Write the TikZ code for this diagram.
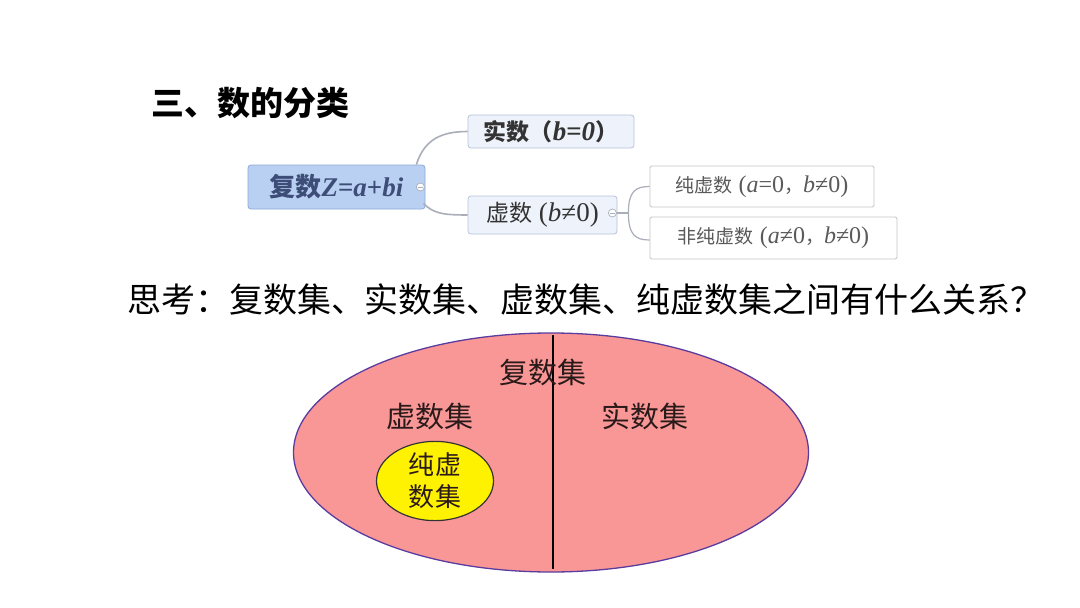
\documentclass[tikz,border=0pt]{standalone}
\usepackage{fontspec}
\setmainfont{Liberation Serif}
\newfontfamily\cjk{Noto Sans CJK SC}
\newfontfamily\tms{Liberation Serif}
\usetikzlibrary{shapes.geometric,calc}
\definecolor{rootfill}{HTML}{B9D0F2}
\definecolor{rootdraw}{HTML}{8EA9D8}
\definecolor{roottext}{HTML}{3E4C78}
\definecolor{subfill}{HTML}{EEF2FA}
\definecolor{subdraw}{HTML}{B6C2D8}
\definecolor{leafdraw}{HTML}{C4C4C4}
\definecolor{leaftext}{HTML}{5A5A5A}
\definecolor{conn}{HTML}{A9AEB9}
\definecolor{pinkfill}{HTML}{F99797}
\definecolor{purpledraw}{HTML}{5A3C9E}
\definecolor{settext}{HTML}{2B1A1A}
\newcommand{\lat}[2]{{\fontsize{#1}{#1}\selectfont #2}}
\tikzset{
  treebox/.style={rectangle, rounded corners=3pt, inner sep=0pt, line width=0.8pt},
  rootbox/.style={treebox, fill=rootfill, draw=rootdraw, text=roottext, font=\fontsize{26}{30}\selectfont\bfseries},
  subbox/.style={treebox, fill=subfill, draw=subdraw, text=black!80, font=\fontsize{23}{27}\selectfont},
  leafbox/.style={treebox, rounded corners=1.5pt, fill=white, draw=leafdraw, text=leaftext, font=\fontsize{19}{23}\selectfont},
  conn/.style={draw=conn, line width=1.6pt},
  marker/.style={circle, minimum size=8pt, inner sep=0pt, fill=white, draw=conn, line width=0.7pt},
  settxt/.style={text=settext, inner sep=0pt, font=\cjk\fontsize{29}{32}\selectfont},
}
\begin{document}
\begin{tikzpicture}[x=1pt,y=-1pt]
\useasboundingbox (0,0) rectangle (1080,608);
\fill[white] (0,0) rectangle (1080,608);

% title
\node[inner sep=0pt, font=\cjk\bfseries\fontsize{33}{36}\selectfont] (title) at (250,103) {三、数的分类};

% tree
\node[rootbox, minimum width=177pt, minimum height=44pt] (root) at (336.5,187) {{\cjk 复数}\lat{27}{\textit{Z}=\textit{a}+\textit{bi}}};
\node[subbox, minimum width=166pt, minimum height=33pt] (shi) at (551,131.5) {\textbf{{\cjk 实数（}\lat{27}{\textit{b}=\textit{0}}{\cjk ）}}};
\node[subbox, minimum width=149pt, minimum height=38pt] (xu) at (542.5,215) {{\cjk 虚数}\lat{27}{ (\textit{b}≠0)}};
\node[leafbox, minimum width=224pt, minimum height=41pt] (chun) at (762,186.5) {{\cjk 纯虚数}\lat{24}{ (\textit{a}=0}{\cjk ，}\lat{24}{\textit{b}≠0)}};
\node[leafbox, minimum width=247pt, minimum height=42pt] (fei) at (773.5,238) {{\cjk 非纯虚数}\lat{24}{ (\textit{a}≠0}{\cjk ，}\lat{24}{\textit{b}≠0)}};

\coordinate (r1) at ($(root.north east)+(-9,0)$);
\coordinate (r2) at ($(root.south east)+(-2,-6)$);
\draw[conn] (r1) .. controls ($(r1)+(8,-26)$) and ($(shi.west)+(-25,0)$) .. (shi.west);
\draw[conn] (r2) .. controls ($(r2)+(10,10)$) and ($(xu.west)+(-25,0)$) .. (xu.west);

\coordinate (fork) at ($(xu.east)+(11,-2)$);
\draw[conn, line width=1.2pt] ($(xu.east)+(-5,-2)$) -- (fork);
\draw[conn, line width=1.2pt] (fork) .. controls ($(fork)+(0,-22)$) and ($(chun.west)+(-14,0)$) .. (chun.west);
\draw[conn, line width=1.2pt] (fork) .. controls ($(fork)+(0,22)$) and ($(fei.west|-fork)+(-14,27)$) .. ($(fei.west)+(0,2)$);

\node[marker] (m1) at ($(root.east)+(-5,0)$) {};
\draw[conn, line width=0.8pt] ($(m1.center)+(-2.2,0)$) -- ($(m1.center)+(2.2,0)$);
\node[marker] (m2) at ($(xu.east)+(-5,-2)$) {};
\draw[conn, line width=0.8pt] ($(m2.center)+(-2.2,0)$) -- ($(m2.center)+(2.2,0)$);

% question
\node[inner sep=0pt, font=\cjk\fontsize{34}{37}\selectfont] (q) at (586,300) {思考：复数集、实数集、虚数集、纯虚数集之间有什么关系？};

% sets diagram
\node[ellipse, minimum width=515pt, minimum height=239pt, inner sep=0pt, fill=pinkfill, draw=purpledraw, line width=1.3pt] (big) at (551,452.5) {};
\coordinate (vtop) at (553,335);
\coordinate (vbot) at (553,569);
\draw[black, line width=1.2pt] (vtop) -- (vbot);
\node[settxt] (fushu) at (543,372) {复数集};
\node[settxt] (xuset) at (430,416) {虚数集};
\node[settxt] (shiset) at (645,416) {实数集};
\node[ellipse, minimum width=117pt, minimum height=76pt, inner sep=0pt, fill=yellow, draw=black!80, line width=1.2pt, align=center, text=settext, font=\cjk\fontsize{26}{32}\selectfont] (chunset) at (435,481) {纯\kern2pt 虚\\数\kern2pt 集};
\end{tikzpicture}
\end{document}
